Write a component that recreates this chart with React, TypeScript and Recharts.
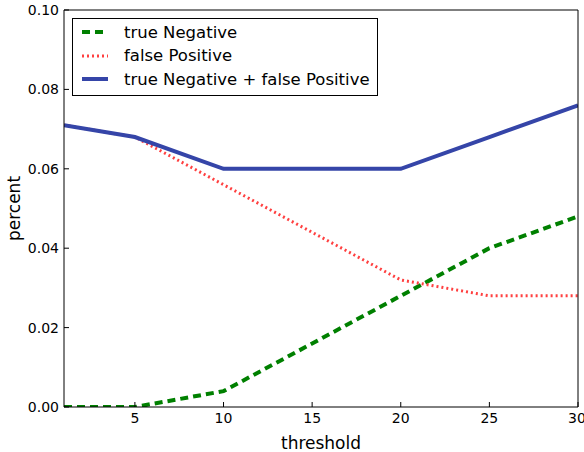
import React from "react";
import { LineChart, Line, XAxis, YAxis } from "recharts";

const thresholds = [1, 5, 10, 15, 20, 25, 30];
const trueNegative = [0.0, 0.0, 0.004, 0.016, 0.028, 0.04, 0.048];
const falsePositive = [0.071, 0.068, 0.056, 0.044, 0.032, 0.028, 0.028];
const combined = [0.071, 0.068, 0.06, 0.06, 0.06, 0.068, 0.076];
const xTicks = [5, 10, 15, 20, 25, 30];
const yTicks = [0, 0.02, 0.04, 0.06, 0.08, 0.1];

const data = thresholds.map((t, i) => ({
  t,
  tn: trueNegative[i],
  fp: falsePositive[i],
  sum: combined[i],
}));

const FONT = "'DejaVu Sans', sans-serif";
const GREEN = "#008000";
const RED = "#ff4040";
const BLUE = "#3545a8";

const legendItems = [
  { label: "true Negative", color: GREEN, dash: "8 5", w: 4 },
  { label: "false Positive", color: RED, dash: "2 3", w: 3 },
  { label: "true Negative + false Positive", color: BLUE, dash: undefined, w: 4 },
];

const Legend = () => (
  <div
    style={{
      position: "absolute",
      left: 72,
      top: 18,
      width: 306,
      height: 78,
      border: "1.5px solid #000",
      boxSizing: "border-box",
      background: "#fff",
      fontFamily: FONT,
      fontSize: 16.5,
    }}
  >
    {legendItems.map((it, i) => (
      <div
        key={it.label}
        style={{ position: "absolute", left: 0, top: 1 + i * 23.5, height: 24, display: "flex", alignItems: "center" }}
      >
        <svg width={40} height={10} style={{ marginLeft: 8 }}>
          <line x1={1} x2={27} y1={5} y2={5} stroke={it.color} strokeWidth={it.w} strokeDasharray={it.dash} />
        </svg>
        <span style={{ marginLeft: 3, whiteSpace: "nowrap" }}>{it.label}</span>
      </div>
    ))}
  </div>
);

const YLabel = (props: any) => {
  const vb = props.viewBox || { y: 10, height: 397 };
  const cy = vb.y + vb.height / 2;
  const cx = 14;
  return (
    <text
      x={cx}
      y={cy}
      transform={`rotate(-90, ${cx}, ${cy})`}
      textAnchor="middle"
      dominantBaseline="central"
      fill="#000"
      fontSize={17}
      fontFamily={FONT}
    >
      percent
    </text>
  );
};

export default function App() {
  return (
    <div style={{ position: "absolute", left: 0, top: 0, width: 584, height: 452, background: "#fff" }}>
      <LineChart
        width={584}
        height={452}
        data={data}
        margin={{ top: 9, right: 5, bottom: 0, left: 0 }}
        style={{ fontFamily: FONT }}
      >
        <XAxis
          xAxisId="top"
          orientation="top"
          dataKey="t"
          type="number"
          domain={[1, 30]}
          ticks={xTicks}
          height={1}
          tick={false}
          tickSize={-5}
          stroke="#000"
        />
        <XAxis
          dataKey="t"
          type="number"
          domain={[1, 30]}
          ticks={xTicks}
          height={45}
          tickSize={-5}
          tickMargin={11}
          stroke="#000"
          tick={{ fill: "#000", fontSize: 14 }}
          allowDataOverflow
          label={{ value: "threshold", position: "insideBottom", offset: 3, fill: "#000", fontSize: 17 }}
        />
        <YAxis
          yAxisId="right"
          orientation="right"
          domain={[0, 0.1]}
          ticks={yTicks}
          width={1}
          tick={false}
          tickSize={-5}
          stroke="#000"
        />
        <YAxis
          domain={[0, 0.1]}
          ticks={yTicks}
          width={64}
          tickSize={-5}
          tickMargin={10}
          stroke="#000"
          tick={{ fill: "#000", fontSize: 14 }}
          tickFormatter={(v: number) => v.toFixed(2)}
          allowDataOverflow
          label={<YLabel />}
        />
        <Line
          dataKey="tn"
          stroke={GREEN}
          strokeWidth={4}
          strokeDasharray="8 5"
          dot={false}
          isAnimationActive={false}
          type="linear"
        />
        <Line
          dataKey="fp"
          stroke={RED}
          strokeWidth={3}
          strokeDasharray="2 3"
          dot={false}
          isAnimationActive={false}
          type="linear"
        />
        <Line
          dataKey="sum"
          stroke={BLUE}
          strokeWidth={4}
          dot={false}
          isAnimationActive={false}
          type="linear"
        />
      </LineChart>
      <Legend />
    </div>
  );
}
